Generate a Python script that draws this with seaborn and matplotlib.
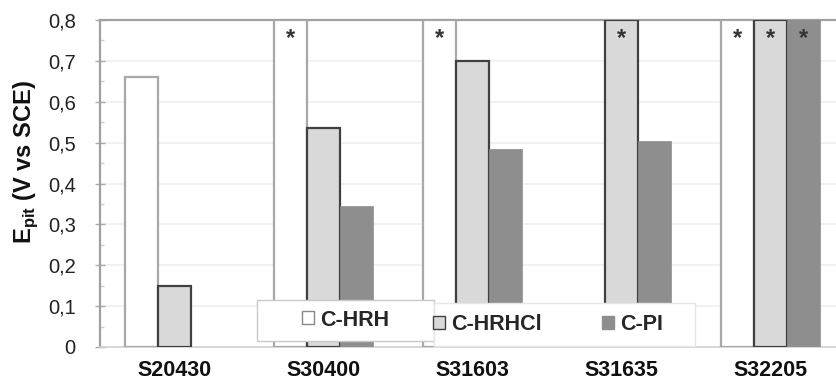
import numpy as np
import pandas as pd
import matplotlib
matplotlib.use("Agg")
import matplotlib.pyplot as plt
import seaborn as sns
from matplotlib.patches import Patch, Rectangle
from matplotlib.ticker import MultipleLocator

# ---- data ----
categories = ["S20430", "S30400", "S31603", "S31635", "S32205"]
series = ["C-HRH", "C-HRHCl", "C-PI"]
c_hrh = [0.66, 0.80, 0.80, np.nan, 0.80]
c_hrhcl = [0.15, 0.535, 0.70, 0.80, 0.80]
c_pi = [np.nan, 0.345, 0.485, 0.505, 0.80]
# asterisk = no pitting up to the upper limit
star_hrh = [False, True, True, False, True]
star_hrhcl = [False, False, False, True, True]
star_pi = [False, False, False, False, True]
ytick_vals = [0, 0.1, 0.2, 0.3, 0.4, 0.5, 0.6, 0.7, 0.8]
ytick_labels = ["0", "0,1", "0,2", "0,3", "0,4", "0,5", "0,6", "0,7", "0,8"]

values = [c_hrh, c_hrhcl, c_pi]
stars = [star_hrh, star_hrhcl, star_pi]
df = pd.DataFrame({
    "Alloy": np.tile(categories, len(series)),
    "Method": np.repeat(series, len(categories)),
    "Epit": np.concatenate(values),
})

face = ["#ffffff", "#d9d9d9", "#8e8e8e"]
edge = ["#a8a8a8", "#404040", "#8e8e8e"]

sns.set_theme(style="white")
plt.rcParams["font.family"] = ["Liberation Sans", "DejaVu Sans"]
plt.rcParams["mathtext.fontset"] = "custom"
plt.rcParams["mathtext.rm"] = "Liberation Sans"
plt.rcParams["mathtext.bf"] = "Liberation Sans:bold"

fig = plt.figure(figsize=(8.36, 3.86), dpi=100)
ax = fig.add_axes([100 / 836, 39 / 386, 745 / 836, 327 / 386])

sns.barplot(data=df, x="Alloy", y="Epit", hue="Method", order=categories,
            hue_order=series, palette=face, width=0.67, ax=ax,
            legend=False, saturation=1, errorbar=None, linewidth=1.6)

for i, cont in enumerate(ax.containers):
    for bar in cont:
        bar.set_edgecolor(edge[i])
        bar.set_linewidth(1.6 if i < 2 else 0.5)
        bar.set_zorder(3)
        xc = bar.get_x() + bar.get_width() / 2
        j = int(round(xc))
        if stars[i][j]:
            ax.text(xc, 0.782, "*", ha="center", va="top", fontsize=17,
                    color="#333333", fontweight="bold", zorder=5)

ax.set_xlim(-0.5, 4.5)
ax.set_ylim(0, 0.8)
ax.set_yticks(ytick_vals)
ax.set_yticklabels(ytick_labels, fontsize=14.5, color="#222222")
ax.yaxis.set_minor_locator(MultipleLocator(0.05))
ax.set_xticks(range(len(categories)))
ax.set_xticklabels(categories, fontsize=15.5, fontweight="bold", color="#111111")
ax.set_xticks(np.arange(0.5, 4.5, 1.0), minor=True)
ax.tick_params(axis="x", which="major", length=0, pad=9)
ax.tick_params(axis="x", which="minor", length=5, color="#cccccc", width=1,
               direction="out")
ax.tick_params(axis="y", which="major", length=7, color="#aaaaaa", width=1,
               direction="inout", left=True, pad=14)
ax.tick_params(axis="y", which="minor", length=3, color="#cccccc", width=1,
               direction="in", left=True)
ax.set_xlabel("")
ax.set_ylabel(r"E$_{\mathbf{pit}}$ (V vs SCE)", fontsize=17, fontweight="bold",
              color="#111111")
ax.yaxis.set_label_coords(-0.081, 0.565)

for y in ytick_vals[1:-1]:
    ax.axhline(y, color="#efefef", lw=1.2, zorder=0)

for s in ["left", "top"]:
    ax.spines[s].set_color("#a0a0a0")
    ax.spines[s].set_linewidth(1.6)
ax.spines["bottom"].set_color("#d0d0d0")
ax.spines["bottom"].set_linewidth(1.2)
ax.spines["right"].set_visible(False)

# legend boxes (two pasted boxes as in the reference)
W, H = 836, 386
def frect(x0, y0, x1, y1, ec):
    return Rectangle((x0 / W, 1 - y1 / H), (x1 - x0) / W, (y1 - y0) / H,
                     transform=fig.transFigure, facecolor="white",
                     edgecolor=ec, lw=1.0, zorder=10)
fig.patches.append(frect(257, 300, 434, 341, "#c8c8c8"))
fig.patches.append(frect(434, 303, 695, 346, "#e6e6e6"))

handles = [Patch(facecolor=face[i], edgecolor=["#888888", "#404040", "#8e8e8e"][i],
                 lw=1.0) for i in range(3)]
leg1 = fig.legend([handles[0]], [series[0]], loc="center",
                  bbox_to_anchor=(346 / W, 1 - 320 / H), frameon=False,
                  prop={"size": 15.5, "weight": "bold"}, handlelength=0.55,
                  handleheight=0.55, handletextpad=0.3)
leg1.set_zorder(11)
leg2 = fig.legend(handles[1:], ["C-HRHCl", series[2]], loc="center",
                  bbox_to_anchor=(548 / W, 1 - 325 / H), frameon=False,
                  ncol=2, prop={"size": 15.5, "weight": "bold"}, handlelength=0.55,
                  handleheight=0.55, handletextpad=0.3, columnspacing=2.8)
leg2.set_zorder(11)

fig.savefig("out.png", dpi=100)
